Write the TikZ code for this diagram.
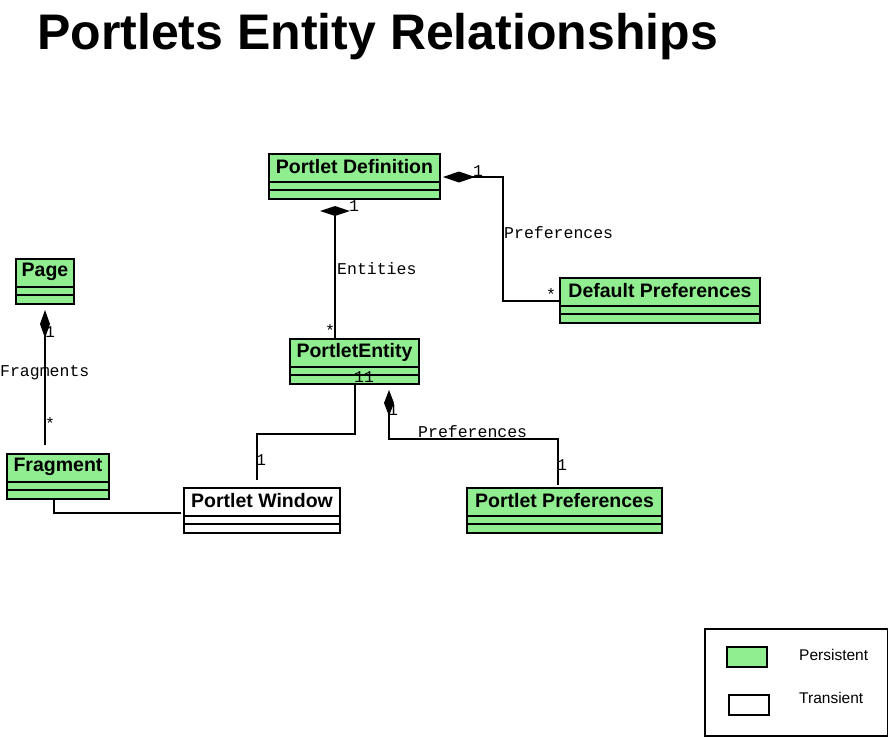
\documentclass[tikz,border=0pt]{standalone}
\usepackage{fontspec}
\setmainfont{Liberation Sans}
\setmonofont{Liberation Mono}
\usetikzlibrary{arrows.meta,shapes.geometric}
\definecolor{pgreen}{HTML}{90EE90}

\begin{document}
\begin{tikzpicture}[x=1pt,y=-1pt,
  cls/.style={draw,line width=2pt,minimum height=45pt,anchor=north west,inner sep=0pt},
  clsname/.style={font=\bfseries\fontsize{19.5}{20}\selectfont,inner sep=0pt},
  conn/.style={line width=2pt},
  lbl/.style={font=\ttfamily\fontsize{16.5}{17}\selectfont,inner sep=0pt},
  dia/.style={diamond,fill=black,inner sep=0pt,aspect=3}]
  \useasboundingbox (0,0) rectangle (888,736);
  \node[font=\bfseries\fontsize{50}{52}\selectfont,inner sep=0pt,anchor=base west] (title) at (37,49) {Portlets Entity Relationships};
  \foreach \n/\x/\y/\w/\t/\c in {pd/268/153/171/Portlet Definition/pgreen,
      page/15/258/58/Page/pgreen, dp/559/277/200/Default Preferences/pgreen,
      pe/289/338/129/PortletEntity/pgreen, frag/6/453/102/Fragment/pgreen,
      pw/183/487/156/Portlet Window/white, pp/466/487/195/Portlet Preferences/pgreen}{
    \node[cls,fill=\c,minimum width=\w] (\n) at (\x,\y) {};
    \node[clsname] (\n-t) at ([yshift=-14pt]\n.north) {\t};
    \draw[line width=2pt] ([yshift=-29pt]\n.north west) -- ([yshift=-29pt]\n.north east)
      ([yshift=-37pt]\n.north west) -- ([yshift=-37pt]\n.north east);
  }
  \draw[conn,{Diamond[length=32pt,width=11pt]}-] ([shift={(2pt,-24pt)}]pd.north east) -- ++(60,0) |- (dp.west);
  \node[lbl] (m1) at (478,171) {1};
  \node[lbl,anchor=west] (m2) at (504,233) {Preferences};
  \node[lbl] (m3) at (551,295) {*};
  \node[dia,minimum width=30pt,minimum height=10pt] (d1) at (335,211) {};
  \draw[conn] (d1.center) -- (d1.center |- pe.north);
  \node[lbl] (m4) at (354,206) {1};
  \node[lbl,anchor=west] (m5) at (337,269) {Entities};
  \node[lbl] (m6) at (330,331) {*};
  \draw[conn,{Diamond[length=28pt,width=10pt]}-] ([yshift=-5pt]page.south) -- ([yshift=8pt]page.south |- frag.north);
  \node[lbl] (m7) at (50,332) {1};
  \node[lbl,anchor=west] (m8) at (0,373) {Fragments};
  \node[lbl] (m9) at (50,424) {*};
  \draw[conn] (pe.south) -- ++(0,49) -| ([shift={(-5pt,7pt)}]pw.north);
  \node[lbl] (m10) at (364,377) {11};
  \node[lbl] (m11) at (261,460) {1};
  \draw[conn,{Diamond[length=26pt,width=10pt]}-] ([shift={(34.5pt,-5pt)}]pe.south) -- ++(0,49) -| ([shift={(-6.5pt,2pt)}]pp.north);
  \node[lbl] (m12) at (393,410) {1};
  \node[lbl,anchor=west] (m13) at (418,432) {Preferences};
  \node[lbl] (m14) at (562,465) {1};
  \draw[conn] ([xshift=-4pt]frag.south) |- ([shift={(-2pt,-2pt)}]pw.west);
  \node[draw,line width=2pt,minimum width=183pt,minimum height=107pt,anchor=north west] (leg) at (704,628) {};
  \node[draw,line width=2pt,fill=pgreen,minimum width=40pt,minimum height=20pt,anchor=north west] (legp) at (726,646) {};
  \node[draw,line width=2pt,fill=white,minimum width=40pt,minimum height=20pt,anchor=north west] (legt) at (728,694) {};
  \node[font=\fontsize{15.5}{16}\selectfont,inner sep=0pt,anchor=west] (legpt) at (799,655) {Persistent};
  \node[font=\fontsize{15.5}{16}\selectfont,inner sep=0pt,anchor=west] (legtt) at (799,698) {Transient};
\end{tikzpicture}
\end{document}
